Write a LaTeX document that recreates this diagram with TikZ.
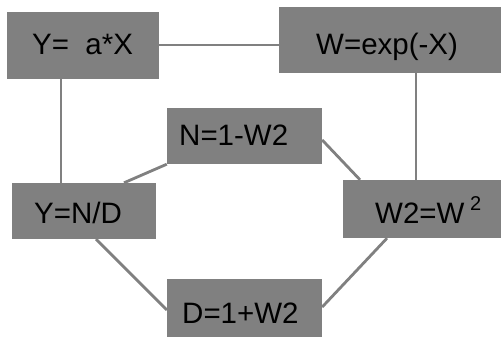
\documentclass[tikz,border=0pt]{standalone}
\usepackage{fontspec}
\setmainfont{Liberation Sans}
\definecolor{boxgray}{RGB}{128,128,128}
\begin{document}
\begin{tikzpicture}[x=1pt,y=-1pt,
  box/.style={rectangle,fill=boxgray,draw=none,inner sep=0pt,minimum width=#1},
  lbl/.style={anchor=base west,inner sep=0pt,font=\fontsize{29.5}{31}\selectfont},
  sup/.style={anchor=base west,inner sep=0pt,font=\fontsize{20}{21}\selectfont},
  link/.style={draw=boxgray,line width=2.8pt}]
\useasboundingbox (0,0) rectangle (501,337);
% boxes
\node[box=152pt,minimum height=67pt] (ya) at (83,45.5) {};
\node[box=222pt,minimum height=66pt] (w) at (390,40) {};
\node[box=155pt,minimum height=56pt] (n) at (244.5,136) {};
\node[box=144pt,minimum height=56pt] (yn) at (84,211) {};
\node[box=155pt,minimum height=58pt] (d) at (244.5,308) {};
\node[box=158pt,minimum height=58pt] (w2) at (422,209) {};
% texts
\node[lbl] (tya) at (32,55) {Y=\ \ a*X};
\node[lbl] (tw) at (316,55) {W=exp(-X)};
\node[lbl] (tn) at (179,146) {N=1-W2};
\node[lbl] (tyn) at (34,223) {Y=N/D};
\node[lbl] (td) at (182,323) {D=1+W2};
\node[lbl] (tw2) at (375,223) {W2=W};
\node[sup] (tw2s) at (470,210) {2};
% connectors
\draw[link] (ya.east |- 0,45) -- (w.west |- 0,45);
\draw[link] (ya.south -| 61,0) -- (yn.north -| 61,0);
\draw[link] (n.south west) -- (yn.north -| 124,0);
\draw[link] (n.east |- 0,140) -- (w2.north -| 360,0);
\draw[link] (w.south -| 416,0) -- (w2.north -| 416,0);
\draw[link] (yn.south -| 96,0) -- (d.west |- 0,310);
\draw[link] (w2.south -| 387,0) -- (d.east |- 0,307);
\end{tikzpicture}
\end{document}
